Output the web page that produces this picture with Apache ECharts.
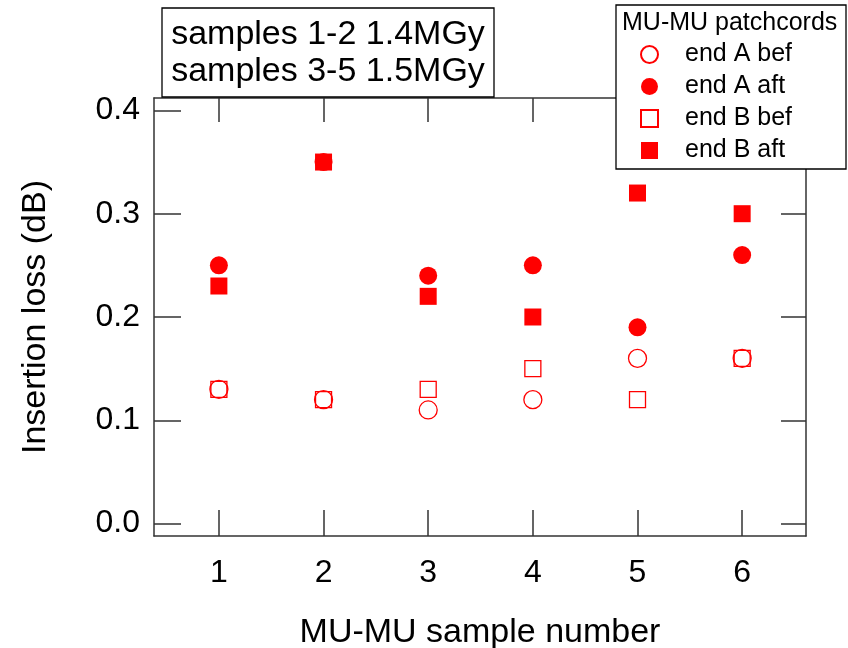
<!DOCTYPE html>
<html>
<head>
<meta charset="utf-8">
<script src="https://cdn.jsdelivr.net/npm/echarts@6/dist/echarts.min.js"></script>
<style>
  html, body { margin: 0; padding: 0; background: #fff; }
  #chart { width: 848px; height: 648px; }
</style>
</head>
<body>
<div id="chart"></div>
<script>
// Sample numbers along the x axis
const samples = [1, 2, 3, 4, 5, 6];
// Insertion loss (dB) per patchcord end, before and after irradiation
const endABef = [0.13, 0.12, 0.11, 0.12, 0.16, 0.16];
const endAAft = [0.25, 0.35, 0.24, 0.25, 0.19, 0.26];
const endBBef = [0.13, 0.12, 0.13, 0.15, 0.12, 0.16];
const endBAft = [0.23, 0.35, 0.22, 0.20, 0.32, 0.30];
// Tick positions
const xTicks = [1, 2, 3, 4, 5, 6];
const yTicks = [0, 0.1, 0.2, 0.3, 0.4];

const FONT = '"Liberation Sans", Arial, Helvetica, sans-serif';
const RED = '#ff0000';
const AXIS = '#333333';

const pairs = vals => samples.map((s, i) => [s, vals[i]]);

const frameLine = { show: true, onZero: false, lineStyle: { color: AXIS, width: 1.5 } };
const X_MIN = 0.38, X_MAX = 6.61;
const Y_MIN = -0.012, Y_MAX = 0.412;

const chart = echarts.init(document.getElementById('chart'), null, { renderer: 'canvas' });

chart.setOption({
  animation: false,
  backgroundColor: '#fff',
  textStyle: { fontFamily: FONT },
  grid: { left: 154, right: 42, top: 98, bottom: 112, containLabel: false, outerBoundsMode: 'none' },
  xAxis: [
    {
      type: 'value', position: 'bottom', min: X_MIN, max: X_MAX,
      name: 'MU-MU sample number', nameLocation: 'middle', nameGap: 80,
      nameTextStyle: { fontFamily: FONT, fontSize: 34, color: '#000' },
      axisLine: frameLine,
      axisTick: { show: true, inside: true, length: 26, customValues: xTicks,
                  lineStyle: { color: AXIS, width: 1.5 } },
      axisLabel: { show: true, customValues: xTicks, margin: 21,
                   fontFamily: FONT, fontSize: 32, color: '#000' },
      splitLine: { show: false }
    },
    {
      type: 'value', position: 'top', min: X_MIN, max: X_MAX,
      axisLine: frameLine,
      axisTick: { show: true, inside: true, length: 24, customValues: xTicks,
                  lineStyle: { color: AXIS, width: 1.5 } },
      axisLabel: { show: false },
      splitLine: { show: false }
    }
  ],
  yAxis: [
    {
      type: 'value', position: 'left', min: Y_MIN, max: Y_MAX,
      name: 'Insertion loss (dB)', nameLocation: 'middle', nameGap: 101, nameRotate: 90,
      nameTextStyle: { fontFamily: FONT, fontSize: 34, color: '#000' },
      axisLine: frameLine,
      axisTick: { show: true, inside: true, length: 27, customValues: yTicks,
                  lineStyle: { color: AXIS, width: 1.5 } },
      axisLabel: { show: true, customValues: yTicks, margin: 14,
                   fontFamily: FONT, fontSize: 32, color: '#000',
                   formatter: v => v.toFixed(1) },
      splitLine: { show: false }
    },
    {
      type: 'value', position: 'right', min: Y_MIN, max: Y_MAX,
      axisLine: frameLine,
      axisTick: { show: true, inside: true, length: 25, customValues: yTicks,
                  lineStyle: { color: AXIS, width: 1.5 } },
      axisLabel: { show: false },
      splitLine: { show: false }
    }
  ],
  legend: {
    orient: 'vertical', left: 635, top: 37,
    itemWidth: 17, itemHeight: 17, itemGap: 7,
    textStyle: { fontFamily: FONT, fontSize: 25, color: '#000', padding: [0, 0, 0, 22] },
    data: ['end A bef', 'end A aft', 'end B bef', 'end B aft'],
    z: 200
  },
  graphic: [
    { type: 'rect', z: 100, shape: { x: 162, y: 8, width: 332, height: 89 },
      style: { fill: '#fff', stroke: '#000', lineWidth: 1.3 } },
    { type: 'text', z: 101, style: { x: 328, y: 35, text: 'samples 1-2 1.4MGy', font: '34px ' + FONT,
      fill: '#000', align: 'center', verticalAlign: 'middle' } },
    { type: 'text', z: 101, style: { x: 328, y: 72, text: 'samples 3-5 1.5MGy', font: '34px ' + FONT,
      fill: '#000', align: 'center', verticalAlign: 'middle' } },
    { type: 'rect', z: 100, shape: { x: 616, y: 5, width: 230, height: 164 },
      style: { fill: '#fff', stroke: '#000', lineWidth: 1.3 } },
    { type: 'text', z: 101, style: { x: 622, y: 23, text: 'MU-MU patchcords', font: '25px ' + FONT,
      fill: '#000', align: 'left', verticalAlign: 'middle' } }
  ],
  series: [
    {
      name: 'end A bef', type: 'scatter', data: pairs(endABef),
      symbol: 'circle', symbolSize: 18,
      itemStyle: { color: 'rgba(255,255,255,0)', borderColor: RED, borderWidth: 1.3, opacity: 1 }
    },
    {
      name: 'end A aft', type: 'scatter', data: pairs(endAAft),
      symbol: 'circle', symbolSize: 18,
      itemStyle: { color: RED, opacity: 1 }
    },
    {
      name: 'end B bef', type: 'scatter', data: pairs(endBBef),
      symbol: 'rect', symbolSize: 16,
      itemStyle: { color: 'rgba(255,255,255,0)', borderColor: RED, borderWidth: 1.3, opacity: 1 }
    },
    {
      name: 'end B aft', type: 'scatter', data: pairs(endBAft),
      symbol: 'rect', symbolSize: 17,
      itemStyle: { color: RED, opacity: 1 }
    }
  ]
});
</script>
</body>
</html>
